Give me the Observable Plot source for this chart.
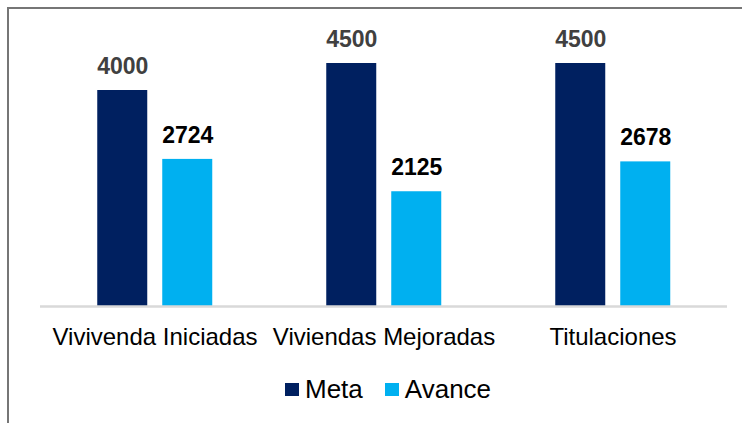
<!DOCTYPE html>
<html>
<head>
<meta charset="utf-8">
<script src="https://cdn.jsdelivr.net/npm/d3@7"></script>
<script src="https://cdn.jsdelivr.net/npm/@observablehq/plot@0.6"></script>
<style>
  body { margin: 0; background: #fff; }
  #wrap { position: relative; width: 742px; height: 423px; overflow: hidden; background: #fff; }
  #frame { position: absolute; left: 7px; top: 7px; width: 760px; height: 440px; border-top: 2px solid #767676; border-left: 2px solid #767676; box-sizing: border-box; pointer-events: none; }
  #chart { position: absolute; left: 0; top: 0; }
  #legend { position: absolute; left: 285px; top: 374px; height: 31px; display: flex; align-items: center; font-family: "Liberation Sans", Arial, sans-serif; font-size: 26px; color: #000; }
  #legend .sw { display: inline-block; width: 14px; height: 13px; margin-right: 6px; }
  #legend .item { display: flex; align-items: center; margin-right: 22px; }
</style>
</head>
<body>
<div id="wrap">
  <div id="chart"></div>
  <div id="legend"></div>
  <div id="frame"></div>
</div>
<script>
const categories = ["Vivivenda Iniciadas", "Viviendas Mejoradas", "Titulaciones"];
const seriesNames = ["Meta", "Avance"];
const metaValues = [4000, 4500, 4500];
const avanceValues = [2724, 2125, 2678];
const seriesColors = ["#002060", "#00B0F0"];
const labelColors = ["#404040", "#000000"];

const data = [];
categories.forEach((c, i) => {
  data.push({category: c, series: "Meta", value: metaValues[i]});
  data.push({category: c, series: "Avance", value: avanceValues[i]});
});

const chart = Plot.plot({
  width: 742,
  height: 365,
  marginLeft: 38.75,
  marginRight: 14.75,
  marginTop: 36,
  marginBottom: 59,
  style: {background: "transparent", overflow: "visible", fontSize: "24px", fontFamily: "'Liberation Sans', Arial, sans-serif"},
  fx: {
    domain: categories,
    padding: 0,
    axis: "bottom",
    label: null,
    tickSize: 0,
    tickPadding: 21
  },
  x: {domain: seriesNames, paddingInner: 0.227, paddingOuter: 0.852, axis: null},
  y: {domain: [0, 5000], axis: null},
  color: {domain: seriesNames, range: seriesColors},
  marks: [
    Plot.barY(data, {fx: "category", x: "series", y: "value", fill: "series"}),
    Plot.ruleY([0], {stroke: "#d9d9d9", strokeWidth: 2.5}),
    Plot.text(data, {
      fx: "category", x: "series", y: "value", text: d => String(d.value),
      fill: d => labelColors[seriesNames.indexOf(d.series)],
      dy: -24, lineAnchor: "middle",
      fontWeight: "bold", fontSize: 23,
      fontFamily: "'Liberation Sans', Arial, sans-serif"
    })
  ]
});
document.getElementById("chart").appendChild(chart);

const legend = document.getElementById("legend");
seriesNames.forEach((s, i) => {
  const item = document.createElement("span");
  item.className = "item";
  const sw = document.createElement("span");
  sw.className = "sw";
  sw.style.background = seriesColors[i];
  const lab = document.createElement("span");
  lab.textContent = s;
  item.appendChild(sw);
  item.appendChild(lab);
  legend.appendChild(item);
});
</script>
</body>
</html>
